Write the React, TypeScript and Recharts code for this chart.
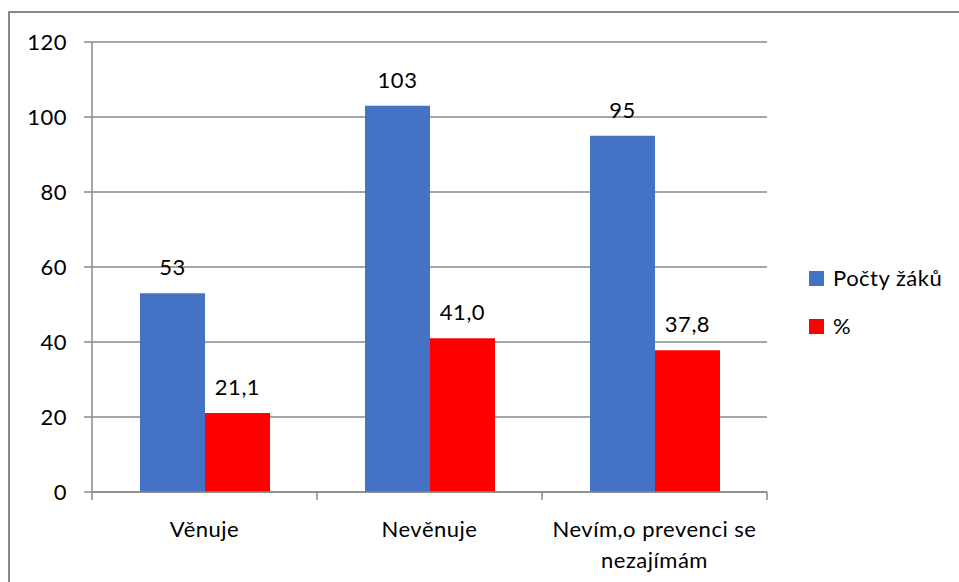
import React from 'react';
import { BarChart, Bar, XAxis, YAxis, CartesianGrid, Legend, LabelList } from 'recharts';

const categories = ['Věnuje', 'Nevěnuje', 'Nevím,o prevenci se nezajímám'];
const categoryLines = [['Věnuje'], ['Nevěnuje'], ['Nevím,o prevenci se', 'nezajímám']];
const pupils = [53, 103, 95];
const percent = [21.1, 41.0, 37.8];
const yTicks = [0, 20, 40, 60, 80, 100, 120];
const seriesNames = ['Počty žáků', '%'];
const seriesColors = ['#4472C4', '#FF0000'];

const data = categories.map((name, i) => ({ name, pupils: pupils[i], percent: percent[i] }));

const GRAY = '#898989';
const FONT = 22;

function CategoryTick(props: any) {
  const { x, y, payload, index, width, visibleTicksCount } = props;
  const half =
    payload && typeof payload.offset === 'number' && payload.offset > 0
      ? payload.offset
      : width / (visibleTicksCount || 3) / 2;
  const lines = categoryLines[index] || [String(payload.value)];
  const isLast = index === (visibleTicksCount || 3) - 1;
  return (
    <g>
      <line x1={x - half} y1={y} x2={x - half} y2={y + 8} stroke={GRAY} strokeWidth={1.5} />
      {isLast && <line x1={x + half} y1={y} x2={x + half} y2={y + 8} stroke={GRAY} strokeWidth={1.5} />}
      <text x={x} y={y + 45} textAnchor="middle" fill="#000" fontSize={FONT}>
        {lines.map((l: string, i: number) => (
          <tspan key={i} x={x} dy={i === 0 ? 0 : 31}>
            {l}
          </tspan>
        ))}
      </text>
    </g>
  );
}

function LegendContent() {
  return (
    <div style={{ display: 'flex', flexDirection: 'column' }}>
      {seriesNames.map((n, i) => (
        <div key={n} style={{ display: 'flex', alignItems: 'center', height: 48 }}>
          <span style={{ display: 'inline-block', width: 15, height: 15, background: seriesColors[i], marginRight: 9 }} />
          <span style={{ fontSize: FONT, color: '#000', lineHeight: '24px' }}>{n}</span>
        </div>
      ))}
    </div>
  );
}

export default function App() {
  return (
    <div
      style={{
        position: 'fixed',
        left: 0,
        top: 0,
        width: 959,
        height: 582,
        overflow: 'hidden',
        background: '#fff',
        fontFamily: 'Lato, "Open Sans", sans-serif',
        letterSpacing: '0.5px',
      }}
    >
      <div style={{ position: 'absolute', left: 8, top: 11, width: 951, height: 2, background: GRAY }} />
      <div style={{ position: 'absolute', left: 8, top: 11, width: 2, height: 571, background: GRAY }} />
      <div style={{ position: 'absolute', left: 0, top: 0 }}>
        <BarChart
          width={959}
          height={582}
          data={data}
          margin={{ top: 42, right: 192, bottom: 30, left: 32 }}
          barGap={0}
        >
          <CartesianGrid horizontal vertical={false} stroke={GRAY} strokeWidth={1.5} />
          <XAxis
            dataKey="name"
            height={60}
            axisLine={{ stroke: GRAY, strokeWidth: 1.5 }}
            tickLine={false}
            tickSize={0}
            tickMargin={0}
            tick={<CategoryTick />}
            interval={0}
          />
          <YAxis
            width={60}
            domain={[0, 120]}
            ticks={yTicks}
            interval={0}
            axisLine={{ stroke: GRAY, strokeWidth: 1.5 }}
            tickLine={{ stroke: GRAY, strokeWidth: 1.5 }}
            tickSize={8}
            tickMargin={17}
            tick={{ fill: '#000', fontSize: FONT }}
          />
          <Legend
            layout="vertical"
            align="center"
            verticalAlign="middle"
            content={<LegendContent />}
            wrapperStyle={{ left: 809, top: 254, width: 150, height: 96 }}
          />
          <Bar dataKey="pupils" name={seriesNames[0]} fill={seriesColors[0]} barSize={65} isAnimationActive={false}>
            <LabelList
              dataKey="pupils"
              position="top"
              offset={18}
              fill="#000"
              fontSize={FONT}
              formatter={(v: any) => String(v)}
            />
          </Bar>
          <Bar dataKey="percent" name={seriesNames[1]} fill={seriesColors[1]} barSize={65} isAnimationActive={false}>
            <LabelList
              dataKey="percent"
              position="top"
              offset={18}
              fill="#000"
              fontSize={FONT}
              formatter={(v: any) => Number(v).toFixed(1).replace('.', ',')}
            />
          </Bar>
        </BarChart>
      </div>
    </div>
  );
}
